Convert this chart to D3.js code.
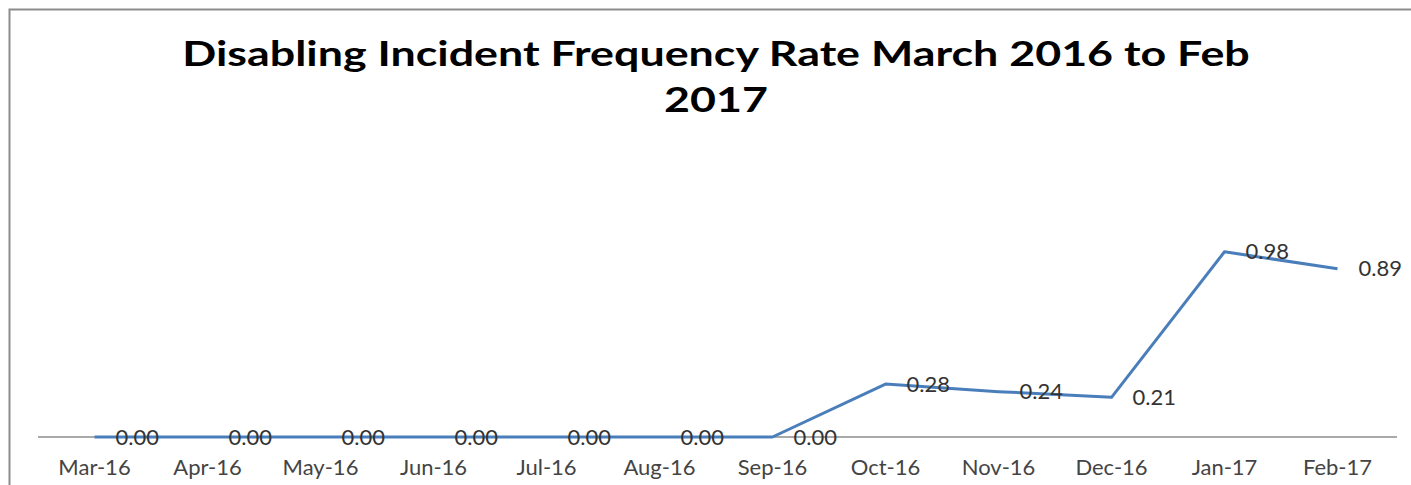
<!DOCTYPE html>
<html>
<head>
<meta charset="utf-8">
<script src="https://cdn.jsdelivr.net/npm/d3@7"></script>
<style>
  body { margin: 0; background: #fff; }
  svg { display: block; }
</style>
</head>
<body>
<svg id="chart" width="1411" height="485"></svg>
<script>
const months = ["Mar-16", "Apr-16", "May-16", "Jun-16", "Jul-16", "Aug-16", "Sep-16", "Oct-16", "Nov-16", "Dec-16", "Jan-17", "Feb-17"];
const rates = [0, 0, 0, 0, 0, 0, 0, 0.28, 0.24, 0.21, 0.98, 0.89];
const titleLines = ["Disabling Incident Frequency Rate March 2016 to Feb", "2017"];

const width = 1411, height = 485;
const svg = d3.select("#chart");

// chart frame (right and bottom edges run off the picture)
svg.append("rect")
    .attr("x", 9.5).attr("y", 9.5)
    .attr("width", width + 20).attr("height", height + 20)
    .attr("fill", "none").attr("stroke", "#8c8c8c").attr("stroke-width", 2);

// title, the source picture is stretched sideways so the text is too
const title = svg.append("text")
    .attr("transform", "translate(716,0) scale(1.28,1)")
    .attr("text-anchor", "middle")
    .attr("font-family", "Lato, 'Open Sans', sans-serif")
    .attr("font-weight", "bold")
    .attr("font-size", 35)
    .attr("fill", "#000");
title.selectAll("tspan")
    .data(titleLines)
    .enter().append("tspan")
    .attr("x", 0)
    .attr("y", (d, i) => 66 + i * 46)
    .text(d => d);

const x = d3.scaleBand().domain(months).range([38, 1394]);
const y = d3.scaleLinear().domain([0, 1]).range([437, 248]);

// x axis
const xAxis = svg.append("g")
    .attr("transform", "translate(0,437)")
    .call(d3.axisBottom(x).tickSize(0).tickPadding(22));
xAxis.select(".domain").attr("stroke", "#8c8c8c").attr("stroke-width", 1.5)
    .attr("d", "M38,0H1397");
xAxis.selectAll("text")
    .attr("font-family", "Lato, 'Open Sans', sans-serif")
    .attr("font-size", 22)
    .attr("fill", "#444");

// line
const line = d3.line()
    .x((d, i) => x(months[i]) + x.bandwidth() / 2)
    .y(d => y(d));

svg.append("path")
    .datum(rates)
    .attr("fill", "none")
    .attr("stroke", "#4a7ebb")
    .attr("stroke-width", 3)
    .attr("stroke-linejoin", "round")
    .attr("d", line);

// data labels, to the right of each point
svg.selectAll("text.label")
    .data(rates)
    .enter().append("text")
    .attr("class", "label")
    .attr("x", (d, i) => x(months[i]) + x.bandwidth() / 2 + 21)
    .attr("y", d => y(d))
    .attr("dy", "0.35em")
    .attr("font-family", "Lato, 'Open Sans', sans-serif")
    .attr("font-size", 22)
    .attr("fill", "#333")
    .text(d => d.toFixed(2));
</script>
</body>
</html>
